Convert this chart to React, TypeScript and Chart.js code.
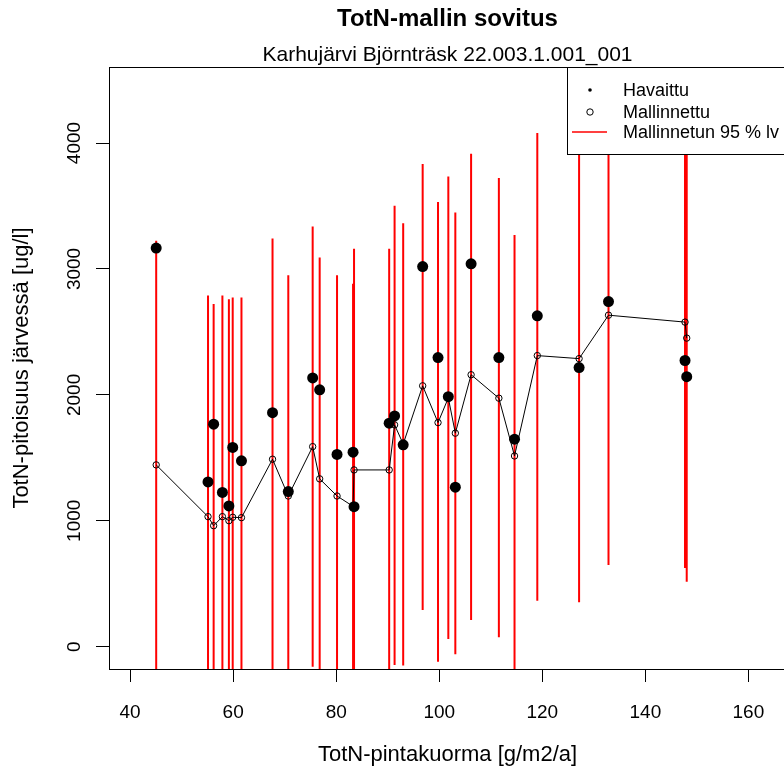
import React, { useEffect, useRef } from "react";
import { Chart, registerables } from "chart.js";

Chart.register(...registerables);

const TITLE = "TotN-mallin sovitus";
const SUBTITLE = "Karhujärvi Björnträsk 22.003.1.001_001";
const X_LABEL = "TotN-pintakuorma [g/m2/a]";
const Y_LABEL = "TotN-pitoisuus järvessä [ug/l]";
const LEGEND_LABELS = ["Havaittu", "Mallinnettu", "Mallinnetun 95 % lv"];

const X_TICKS = [40, 60, 80, 100, 120, 140, 160];
const Y_TICKS = [0, 1000, 2000, 3000, 4000];
const X_MIN = 35.9;
const X_MAX = 167.3;
const Y_MIN = -177;
const Y_MAX = 4604;

// TotN surface load [g/m2/a]
const loads = [45.06, 55.12, 56.21, 57.91, 59.17, 59.91, 61.61, 67.64, 70.7, 75.43, 76.79, 80.16, 83.27, 83.46, 90.28, 91.33, 93.0, 96.78, 99.76, 101.76, 103.12, 106.18, 111.57, 114.61, 119.03, 127.14, 132.85, 147.7, 148.03];
// observed TotN in lake [ug/l]
const observed = [3166, 1309, 1767, 1225, 1118, 1583, 1476, 1859, 1232, 2135, 2040, 1527, 1545, 1112, 1775, 1833, 1603, 3019, 2296, 1986, 1267, 3041, 2296, 1648, 2628, 2217, 2741, 2273, 2145];
// modelled TotN [ug/l]
const modelled = [1444, 1033, 961, 1033, 1001, 1028, 1025, 1489, 1197, 1589, 1333, 1197, 1115, 1404, 1404, 1762, 1610, 2072, 1780, 1976, 1696, 2160, 1974, 1515, 2312, 2288, 2633, 2578, 2451];
// 95 % interval of the modelled value
const upper = [3224, 2789, 2721, 2789, 2760, 2773, 2773, 3242, 2951, 3337, 3091, 2951, 2882, 3160, 3160, 3502, 3364, 3833, 3531, 3735, 3449, 3915, 3722, 3269, 4080, 4200, 4350, 4420, 4400];
const lower = [-340, -720, -800, -720, -760, -720, -720, -260, -560, -160, -420, -560, -650, -350, -350, -146, -150, 292, -119, 61, -60, 212, 75, -240, 366, 353, 649, 625, 516];

const FONT = '"Liberation Sans", Arial, Helvetica, sans-serif';
const TITLE_SIZE = 24;
const SUB_SIZE = 21;
const LAB_SIZE = 22;
const TICK_SIZE = 19;
const LEG_SIZE = 18;

export default function App() {
  const ref = useRef<HTMLCanvasElement>(null);

  useEffect(() => {
    const canvas = ref.current;
    if (!canvas) return;

    const ciData: { x: number; y: number | null }[] = [];
    loads.forEach((x, i) => {
      ciData.push({ x, y: lower[i] }, { x, y: upper[i] }, { x, y: null });
    });

    const decor = {
      id: "decor",
      afterDraw(chart: any) {
        const { ctx, chartArea } = chart;
        const { left, right, top, bottom } = chartArea;
        ctx.save();
        // plot box
        ctx.strokeStyle = "#000";
        ctx.lineWidth = 1;
        ctx.strokeRect(Math.round(left) + 0.5, Math.round(top) + 0.5, Math.round(right - left), Math.round(bottom - top));
        // titles
        const cx = (left + right) / 2;
        ctx.fillStyle = "#000";
        ctx.textAlign = "center";
        ctx.textBaseline = "middle";
        ctx.font = `bold ${TITLE_SIZE}px ${FONT}`;
        ctx.fillText(TITLE, cx, 19);
        ctx.font = `${SUB_SIZE}px ${FONT}`;
        ctx.fillText(SUBTITLE, cx, 55);
        // legend
        const lx = 567, ly = 67, lw = 330, lh = 87;
        ctx.fillStyle = "#fff";
        ctx.fillRect(lx, ly, lw, lh);
        ctx.strokeRect(lx + 0.5, ly + 0.5, lw, lh);
        const rows = [90, 112, 132];
        ctx.fillStyle = "#000";
        ctx.beginPath();
        ctx.arc(590, rows[0], 1.8, 0, Math.PI * 2);
        ctx.fill();
        ctx.beginPath();
        ctx.arc(590, rows[1], 3.2, 0, Math.PI * 2);
        ctx.stroke();
        ctx.strokeStyle = "#ff0000";
        ctx.lineWidth = 1.5;
        ctx.beginPath();
        ctx.moveTo(572, rows[2]);
        ctx.lineTo(607, rows[2]);
        ctx.stroke();
        ctx.fillStyle = "#000";
        ctx.textAlign = "left";
        ctx.font = `${LEG_SIZE}px ${FONT}`;
        LEGEND_LABELS.forEach((t, i) => ctx.fillText(t, 623, rows[i] + 1));
        ctx.restore();
      },
    };

    const chart = new Chart(canvas, {
      type: "scatter",
      data: {
        datasets: [
          {
            label: LEGEND_LABELS[0],
            data: loads.map((x, i) => ({ x, y: observed[i] })),
            showLine: false,
            pointRadius: 5.5,
            pointBackgroundColor: "#000",
            pointBorderColor: "#000",
            pointBorderWidth: 0,
            order: 0,
          },
          {
            label: LEGEND_LABELS[1],
            data: loads.map((x, i) => ({ x, y: modelled[i] })),
            showLine: true,
            borderColor: "#000",
            borderWidth: 1,
            pointRadius: 3.2,
            pointBackgroundColor: "rgba(0,0,0,0)",
            pointBorderColor: "#000",
            pointBorderWidth: 1,
            order: 1,
          },
          {
            label: LEGEND_LABELS[2],
            data: ciData,
            showLine: true,
            spanGaps: false,
            borderColor: "#ff0000",
            borderWidth: 2,
            pointRadius: 0,
            order: 2,
          },
        ],
      } as any,
      options: {
        responsive: false,
        animation: false,
        events: [],
        layout: { padding: { left: 0, top: 67, right: 14, bottom: 0 } },
        plugins: {
          legend: { display: false },
          tooltip: { enabled: false },
          title: { display: false },
        },
        scales: {
          x: {
            type: "linear",
            min: X_MIN,
            max: X_MAX,
            afterBuildTicks: (s: any) => {
              s.ticks = X_TICKS.map((v) => ({ value: v }));
            },
            afterFit: (s: any) => {
              s.height = 104;
            },
            grid: {
              display: true,
              drawOnChartArea: false,
              drawTicks: true,
              tickLength: 13,
              tickColor: "#000",
              color: "#000",
              lineWidth: 1,
            },
            border: { display: true, color: "#000", width: 1 },
            ticks: {
              color: "#000",
              font: { family: FONT, size: TICK_SIZE },
              padding: 19,
              maxRotation: 0,
              minRotation: 0,
              autoSkip: false,
              callback: (v: any) => String(v),
            },
            title: {
              display: true,
              text: X_LABEL,
              color: "#000",
              font: { family: FONT, size: LAB_SIZE },
              padding: { top: 0, bottom: 5 },
            },
          },
          y: {
            type: "linear",
            min: Y_MIN,
            max: Y_MAX,
            afterBuildTicks: (s: any) => {
              s.ticks = Y_TICKS.map((v) => ({ value: v }));
            },
            afterFit: (s: any) => {
              s.width = 109;
            },
            grid: {
              display: true,
              drawOnChartArea: false,
              drawTicks: true,
              tickLength: 13,
              tickColor: "#000",
              color: "#000",
              lineWidth: 1,
            },
            border: { display: true, color: "#000", width: 1 },
            ticks: {
              color: "#000",
              font: { family: FONT, size: TICK_SIZE },
              padding: 0,
              minRotation: 90,
              maxRotation: 90,
              crossAlign: "center",
              autoSkip: false,
              callback: (v: any) => String(v),
            },
            title: {
              display: true,
              text: Y_LABEL,
              color: "#000",
              font: { family: FONT, size: LAB_SIZE },
              padding: { top: 9, bottom: 0 },
            },
          },
        },
      } as any,
      plugins: [decor],
    });

    return () => chart.destroy();
  }, []);

  return (
    <div style={{ position: "fixed", left: 0, top: 0, width: 784, height: 773, overflow: "hidden", background: "#fff" }}>
      <canvas ref={ref} width={800} height={773} style={{ display: "block" }} />
    </div>
  );
}
